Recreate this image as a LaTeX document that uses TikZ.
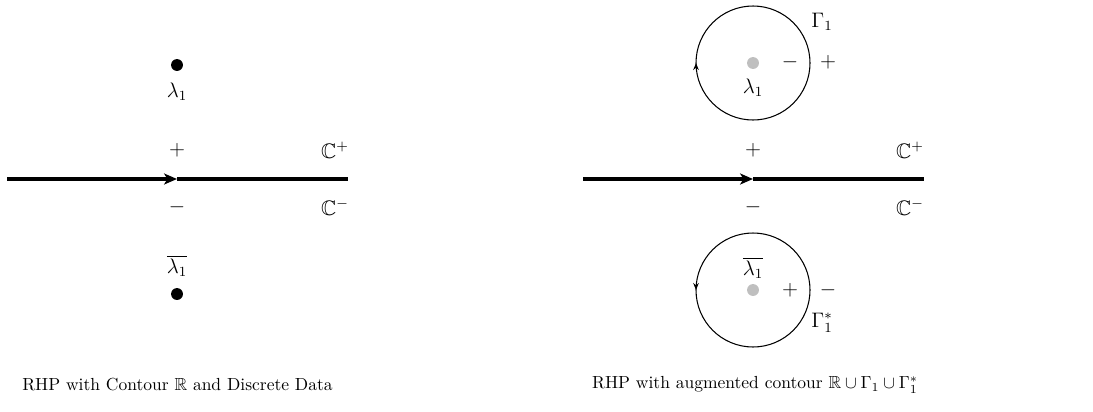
\documentclass[tikz,border=0pt]{standalone}
\usepackage{amsmath,amssymb}
\usetikzlibrary{arrows.meta,decorations.markings}
\begin{document}
\begin{tikzpicture}[x=0.5714pt,y=0.5714pt,
  axis/.style={line width=2pt},
  axtip/.style={-{Stealth[length=7.4pt,width=6.3pt,inset=2pt]}},
  contour/.style={semithick},
  bdot/.style={circle,fill=black,inner sep=0pt,minimum size=6.8pt},
  gdot/.style={circle,fill=black!25,inner sep=0pt,minimum size=6.8pt},
  lbl/.style={font=\large,inner sep=1pt},
  captext/.style={font=\normalsize,inner sep=1pt}]
\useasboundingbox (0,0) rectangle (1093,411);
% ---------- left panel ----------
\coordinate (La) at (7,232);
\coordinate (Lm) at (177,232);
\coordinate (Lb) at (348,232);
\draw[axis,axtip] (La) -- (Lm);
\draw[axis] (Lm) -- (Lb);
\node[bdot] (Ld1) at (177,346) {};
\node[lbl] (Ll1) at (177,319) {$\lambda_1$};
\node[lbl] (Lp) at (177,261) {$+$};
\node[lbl] (LCp) at (335,261) {$\mathbb{C}^{+}$};
\node[lbl] (Lmn) at (177,204) {$-$};
\node[lbl] (LCm) at (335,204) {$\mathbb{C}^{-}$};
\node[lbl] (Ll2) at (177,145) {$\overline{\lambda_1}$};
\node[bdot] (Ld2) at (177,117) {};
\node[captext] (Lcap) at (177.5,26) {RHP with Contour $\mathbb{R}$ and Discrete Data};
% ---------- right panel ----------
\coordinate (Ra) at (583,232);
\coordinate (Rm) at (753,232);
\coordinate (Rb) at (924,232);
\draw[axis,axtip] (Ra) -- (Rm);
\draw[axis] (Rm) -- (Rb);
\node[lbl] (Rp) at (753,261) {$+$};
\node[lbl] (RCp) at (910,261) {$\mathbb{C}^{+}$};
\node[lbl] (Rmn) at (753,204) {$-$};
\node[lbl] (RCm) at (910,204) {$\mathbb{C}^{-}$};
% upper circle
\coordinate (U) at (753,348);
\draw[contour,postaction={decorate},decoration={markings,
  mark=at position 0.5 with {\arrowreversed{Stealth[length=4pt,width=3.2pt]}}}]
  (U) circle[radius=32.57pt];
\node[gdot] (Ug) at (U) {};
\node[lbl] (Ul) at (753,323) {$\lambda_1$};
\node[lbl] (Umn) at (790,349) {$-$};
\node[lbl] (Up) at (828,349) {$+$};
\node[lbl] (UG) at (822,389) {$\Gamma_1$};
% lower circle
\coordinate (D) at (753,121);
\draw[contour,postaction={decorate},decoration={markings,
  mark=at position 0.5 with {\arrow{Stealth[length=4pt,width=3.2pt]}}}]
  (D) circle[radius=32.57pt];
\node[gdot] (Dg) at (D) {};
\node[lbl] (Dl) at (753,143) {$\overline{\lambda_1}$};
\node[lbl] (Dp) at (790,121) {$+$};
\node[lbl] (Dmn) at (828,121) {$-$};
\node[lbl] (DG) at (822,88) {$\Gamma_1^{*}$};
\node[captext] (Rcap) at (755,26) {RHP with augmented contour $\mathbb{R}\cup\Gamma_1\cup\Gamma_1^{*}$};
\end{tikzpicture}
\end{document}
